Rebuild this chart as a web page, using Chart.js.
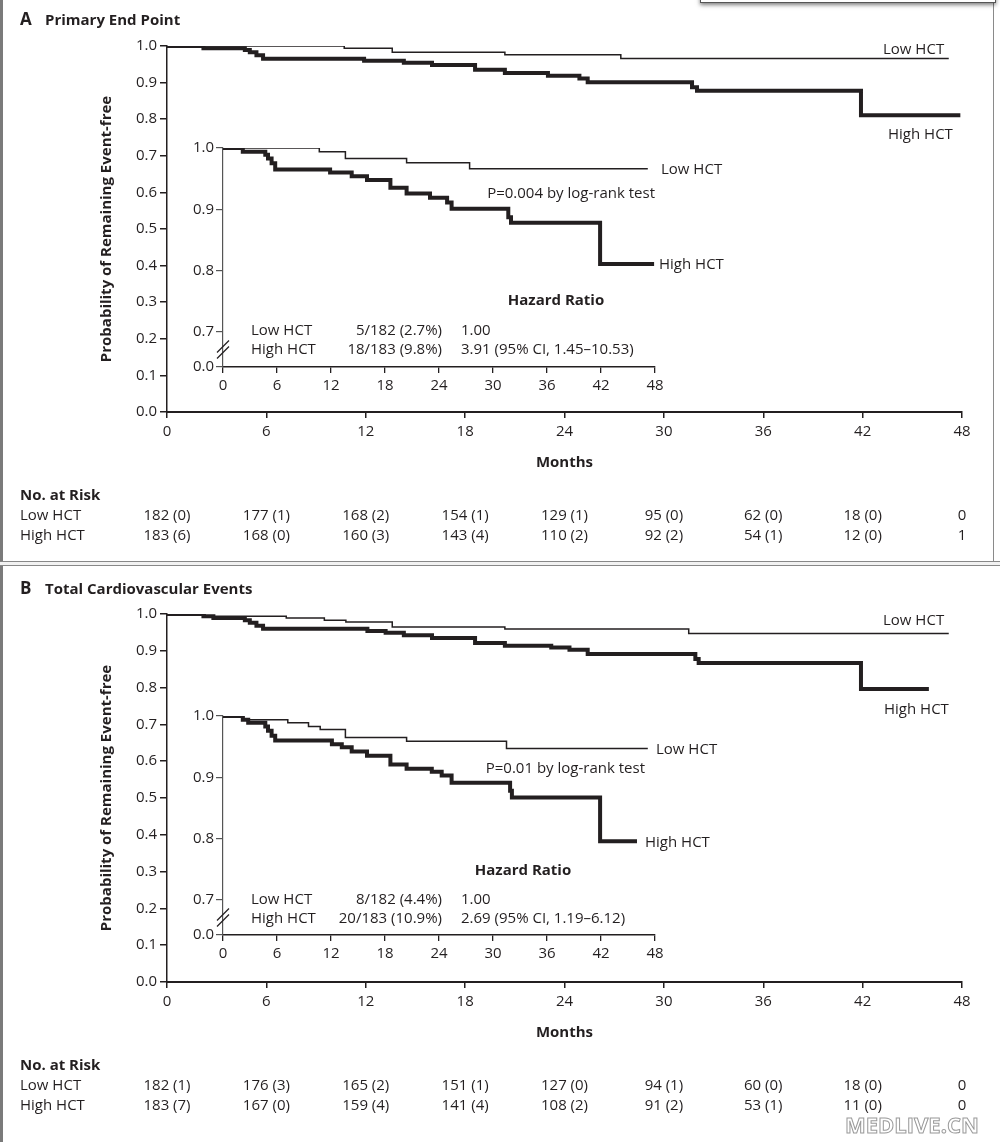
<!DOCTYPE html>
<html>
<head>
<meta charset="utf-8">
<script src="https://cdn.jsdelivr.net/npm/chart.js@4.4.1/dist/chart.umd.min.js"></script>
<style>
body{margin:0;background:#fff;font-family:"Open Sans", sans-serif;color:#231f20}
#page{position:relative;width:1000px;height:1142px;overflow:hidden;background:#fff}
canvas{position:absolute;display:block}
.t{position:absolute;white-space:nowrap;line-height:1;font-size:15px;transform:translateY(-50%)}
.r{transform:translate(-100%,-50%)}
.c{transform:translate(-50%,-50%)}
.b{font-weight:bold}
</style>
</head>
<body>
<div id="page">
  <!-- frame bits -->
  <div style="position:absolute;left:0;top:0;width:3px;height:1142px;background:#7a7a7a"></div>
  <div style="position:absolute;left:993px;top:0;width:1px;height:561px;background:#8a8a8a"></div>
  <div style="position:absolute;left:700px;top:-30px;width:294px;height:31px;border:1px solid #555;box-shadow:0 2px 4px rgba(0,0,0,0.5);background:#fff"></div>
  <div style="position:absolute;left:0;top:561px;width:1000px;height:3px;border-top:1px solid #888;border-bottom:1px solid #888;background:#f2f2f2"></div>

  <canvas id="mainA" width="1000" height="560" style="left:0;top:0"></canvas>
  <canvas id="insetA" width="500" height="270" style="left:170px;top:130px"></canvas>
  <canvas id="mainB" width="1000" height="574" style="left:0;top:568px"></canvas>
  <canvas id="insetB" width="500" height="270" style="left:170px;top:698px"></canvas>

  <!-- panel A text -->
  <div class="t b" style="left:20px;top:18px;font-size:17px">A</div>
  <div class="t b" style="left:45px;top:19px;font-size:15px">Primary End Point</div>
  <div class="t" style="left:883px;top:48px">Low HCT</div>
  <div class="t" style="left:888px;top:133px">High HCT</div>
  <div class="t" style="left:661px;top:168px">Low HCT</div>
  <div class="t" style="left:659px;top:263px">High HCT</div>
  <div class="t r" style="left:655px;top:192px">P=0.004 by log-rank test</div>
  <div class="t c b" style="left:556px;top:299px">Hazard Ratio</div>
  <div class="t" style="left:251px;top:329px">Low HCT</div>
  <div class="t r" style="left:442px;top:329px">5/182 (2.7%)</div>
  <div class="t" style="left:461px;top:329px">1.00</div>
  <div class="t" style="left:251px;top:348px">High HCT</div>
  <div class="t r" style="left:442px;top:348px">18/183 (9.8%)</div>
  <div class="t" style="left:461px;top:348px">3.91 (95% CI, 1.45–10.53)</div>

  <!-- panel B text -->
  <div class="t b" style="left:20px;top:587px;font-size:17px">B</div>
  <div class="t b" style="left:45px;top:588px;font-size:15px">Total Cardiovascular Events</div>
  <div class="t" style="left:883px;top:619px">Low HCT</div>
  <div class="t" style="left:884px;top:708px">High HCT</div>
  <div class="t" style="left:656px;top:748px">Low HCT</div>
  <div class="t" style="left:645px;top:841px">High HCT</div>
  <div class="t r" style="left:645px;top:767px">P=0.01 by log-rank test</div>
  <div class="t c b" style="left:523px;top:869px">Hazard Ratio</div>
  <div class="t" style="left:251px;top:898px">Low HCT</div>
  <div class="t r" style="left:442px;top:898px">8/182 (4.4%)</div>
  <div class="t" style="left:461px;top:898px">1.00</div>
  <div class="t" style="left:251px;top:917px">High HCT</div>
  <div class="t r" style="left:442px;top:917px">20/183 (10.9%)</div>
  <div class="t" style="left:461px;top:917px">2.69 (95% CI, 1.19–6.12)</div>

  <div class="t b" style="left:845px;top:1124px;font-size:22px;color:#fff;-webkit-text-stroke:1px #9a9a9a;letter-spacing:0px">MEDLIVE.CN</div>
</div>

<script>
// months for the at-risk table and x ticks
const riskMonths = [0, 6, 12, 18, 24, 30, 36, 42, 48];

// Panel A - primary end point (Kaplan-Meier steps)
const aLowMonths  = [0, 10.7, 13.6, 20.4, 27.4, 47.2];
const aLowSurv    = [1.0, 0.994, 0.983, 0.976, 0.966, 0.966];
const aHighMonths = [0, 2.2, 4.7, 5.0, 5.4, 5.8, 11.9, 14.3, 16.0, 18.6, 20.4, 23.0, 24.9, 25.4, 31.7, 32.0, 41.9, 47.9];
const aHighSurv   = [1.0, 0.994, 0.989, 0.983, 0.975, 0.965, 0.960, 0.954, 0.948, 0.935, 0.926, 0.919, 0.911, 0.901, 0.887, 0.878, 0.811, 0.811];
const aRiskLow  = ['182 (0)', '177 (1)', '168 (2)', '154 (1)', '129 (1)', '95 (0)', '62 (0)', '18 (0)', '0'];
const aRiskHigh = ['183 (6)', '168 (0)', '160 (3)', '143 (4)', '110 (2)', '92 (2)', '54 (1)', '12 (0)', '1'];

// Panel B - total cardiovascular events
const bLowMonths  = [0, 2.3, 7.2, 9.5, 10.8, 13.6, 20.4, 31.5, 47.2];
const bLowSurv    = [1.0, 0.994, 0.989, 0.983, 0.978, 0.965, 0.959, 0.947, 0.947];
const bHighMonths = [0, 2.2, 2.8, 4.7, 5.0, 5.4, 5.8, 12.1, 13.2, 14.3, 16.0, 18.6, 20.4, 23.2, 24.3, 25.4, 31.9, 32.1, 41.9, 46.0];
const bHighSurv   = [1.0, 0.994, 0.989, 0.983, 0.976, 0.968, 0.960, 0.954, 0.949, 0.942, 0.935, 0.921, 0.914, 0.909, 0.903, 0.891, 0.878, 0.867, 0.796, 0.796];
const bRiskLow  = ['182 (1)', '176 (3)', '165 (2)', '151 (1)', '127 (0)', '94 (1)', '60 (0)', '18 (0)', '0'];
const bRiskHigh = ['183 (7)', '167 (0)', '159 (4)', '141 (4)', '108 (2)', '91 (2)', '53 (1)', '11 (0)', '0'];

// inset y axis: 0.7-1.0 plus a broken-off 0.0
const insetTicks = [0.7, 0.8, 0.9, 1.0];
const insetZero = 0.643;

const ink = '#231f20';
const face = '"Open Sans", sans-serif';
Chart.defaults.font.family = face;
Chart.defaults.color = ink;

function pts(t, s) {
  return t.map((m, i) => ({x: m, y: s[i]}));
}

const riskTable = {
  id: 'riskTable',
  afterDraw(chart, args, opts) {
    const ctx = chart.ctx, x = chart.scales.x;
    const y0 = chart.chartArea.bottom + 84;
    ctx.save();
    ctx.fillStyle = ink;
    ctx.textBaseline = 'middle';
    ctx.textAlign = 'left';
    ctx.font = 'bold 15px ' + face;
    ctx.fillText('No. at Risk', 20, y0);
    ctx.font = '15px ' + face;
    opts.rows.forEach((row, r) => {
      const y = y0 + 20 * (r + 1);
      ctx.textAlign = 'left';
      ctx.fillText(row[0], 20, y);
      ctx.textAlign = 'center';
      row[1].forEach((v, i) => ctx.fillText(v, x.getPixelForValue(riskMonths[i]), y));
    });
    ctx.restore();
  }
};

const axisBreak = {
  id: 'axisBreak',
  afterDraw(chart) {
    const ctx = chart.ctx, y = chart.scales.y;
    const x0 = chart.chartArea.left;
    const yc = (y.getPixelForValue(0.7) + y.getPixelForValue(insetZero)) / 2;
    ctx.save();
    ctx.strokeStyle = ink;
    ctx.lineWidth = 1.3;
    [-3, 3].forEach(d => {
      ctx.beginPath();
      ctx.moveTo(x0 - 6, yc + d + 6);
      ctx.lineTo(x0 + 6, yc + d - 6);
      ctx.stroke();
    });
    ctx.restore();
  }
};

function series(low, high) {
  return [
    {label: 'Low HCT', data: low, borderColor: ink, borderWidth: 1.5, pointRadius: 0, stepped: 'before', fill: false},
    {label: 'High HCT', data: high, borderColor: ink, borderWidth: 4, pointRadius: 0, stepped: 'before', fill: false}
  ];
}

function makeMain(id, low, high, rows, padBottom) {
  return new Chart(document.getElementById(id), {
    type: 'line',
    data: {datasets: series(low, high)},
    plugins: [riskTable],
    options: {
      responsive: false,
      animation: false,
      layout: {padding: {left: 90, right: 38, top: 46, bottom: padBottom}},
      plugins: {legend: {display: false}, tooltip: {enabled: false}, riskTable: {rows: rows}},
      scales: {
        x: {
          type: 'linear', min: 0, max: 48,
          ticks: {stepSize: 6, font: {size: 15}, padding: 5, maxRotation: 0},
          grid: {drawOnChartArea: false, tickLength: 6, color: ink, lineWidth: 1.5},
          border: {color: ink, width: 2},
          title: {display: true, text: 'Months', font: {size: 15, weight: 'bold'}, padding: {top: 0, bottom: 8}},
          afterFit: s => { s.height = 68; }
        },
        y: {
          min: 0, max: 1,
          ticks: {stepSize: 0.1, font: {size: 15}, padding: 3, callback: v => v.toFixed(1)},
          grid: {drawOnChartArea: false, tickLength: 7, color: ink, lineWidth: 1.5},
          border: {color: ink, width: 1.5},
          title: {display: true, text: 'Probability of Remaining Event-free', font: {size: 15, weight: 'bold'}, padding: {top: 8, bottom: 0}},
          afterFit: s => { s.width = 77; }
        }
      }
    }
  });
}

function makeInset(id, low, high) {
  return new Chart(document.getElementById(id), {
    type: 'line',
    data: {datasets: series(low, high)},
    plugins: [axisBreak],
    options: {
      responsive: false,
      animation: false,
      layout: {padding: {left: 0, right: 15, top: 18, bottom: 8}},
      plugins: {legend: {display: false}, tooltip: {enabled: false}},
      scales: {
        x: {
          type: 'linear', min: 0, max: 48,
          ticks: {stepSize: 6, font: {size: 15}, padding: 4, maxRotation: 0},
          grid: {drawOnChartArea: false, tickLength: 6, color: ink, lineWidth: 1.3},
          border: {color: ink, width: 1.5},
          afterFit: s => { s.height = 25; }
        },
        y: {
          min: insetZero, max: 1,
          afterBuildTicks: s => { s.ticks = [insetZero].concat(insetTicks).map(v => ({value: v})); },
          ticks: {font: {size: 15}, padding: 2, callback: v => v === insetZero ? '0.0' : v.toFixed(1)},
          grid: {drawOnChartArea: false, tickLength: 7, color: '#555', lineWidth: 1.2},
          border: {color: '#555', width: 1.2},
          afterFit: s => { s.width = 53; }
        }
      }
    }
  });
}

makeMain('mainA', pts(aLowMonths, aLowSurv), pts(aHighMonths, aHighSurv), [['Low HCT', aRiskLow], ['High HCT', aRiskHigh]], 80);
makeInset('insetA', pts(aLowMonths, aLowSurv), pts(aHighMonths, aHighSurv));
makeMain('mainB', pts(bLowMonths, bLowSurv), pts(bHighMonths, bHighSurv), [['Low HCT', bRiskLow], ['High HCT', bRiskHigh]], 92);
makeInset('insetB', pts(bLowMonths, bLowSurv), pts(bHighMonths, bHighSurv));
</script>
</body>
</html>
